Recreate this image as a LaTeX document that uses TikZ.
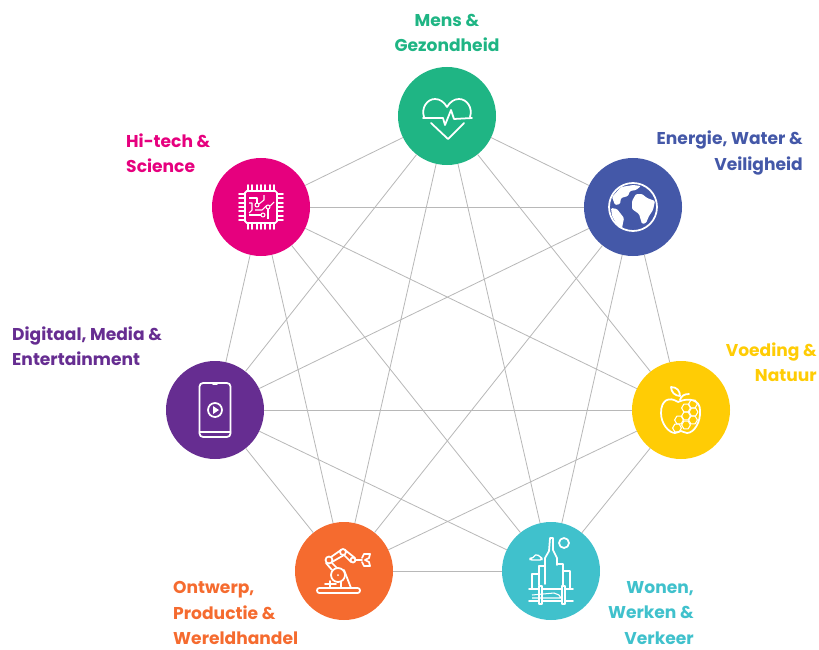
\documentclass[tikz,border=0pt]{standalone}
\usepackage{fontspec}
\setmainfont{Poppins}
\usetikzlibrary{calc}

\definecolor{mensgreen}{HTML}{1FB584}
\definecolor{hitechpink}{HTML}{E6007E}
\definecolor{energieblue}{HTML}{4458A8}
\definecolor{voedingyellow}{HTML}{FFCC05}
\definecolor{wonenteal}{HTML}{40C1CC}
\definecolor{ontwerporange}{HTML}{F56B2F}
\definecolor{digitaalpurple}{HTML}{662D91}
\definecolor{linegrey}{HTML}{B8B8B8}

\begin{document}
\begin{tikzpicture}[x=0.03cm, y=-0.03cm]
    % Styles
    \tikzset{
        theme/.style={circle, fill=#1, minimum size=2.94cm, inner sep=0pt, outer sep=0pt},
        link/.style={draw=linegrey, line width=0.7pt},
        caption/.style={font=\bfseries\fontsize{14.6}{21.4}\selectfont, text=#1, inner sep=0pt},
        icon/.style={draw=white, line width=1.5pt, line join=round, line cap=round},
        thinicon/.style={draw=white, line width=0.9pt, line join=round}
    }

    \useasboundingbox (0,0) rectangle (819,650);

    % Main circles
    \node[theme=mensgreen] (mens) at (447,116) {};
    \node[theme=hitechpink] (hitech) at (261,207) {};
    \node[theme=energieblue] (energie) at (633,207) {};
    \node[theme=voedingyellow] (voeding) at (681,410) {};
    \node[theme=wonenteal] (wonen) at (551,571) {};
    \node[theme=ontwerporange] (ontwerp) at (344,571) {};
    \node[theme=digitaalpurple] (digitaal) at (215,410) {};

    % Connections
    \foreach \a/\b in {mens/hitech, mens/energie, mens/voeding, mens/wonen, mens/ontwerp, mens/digitaal,
        hitech/energie, hitech/voeding, hitech/wonen, hitech/ontwerp, hitech/digitaal,
        energie/voeding, energie/wonen, energie/ontwerp, energie/digitaal,
        voeding/wonen, voeding/ontwerp, voeding/digitaal,
        wonen/ontwerp, wonen/digitaal,
        ontwerp/digitaal}
        \draw[link] (\a) -- (\b);

    % Labels
    \node[caption=mensgreen, align=center] (menslabel) at (447,33) {Mens \&\\Gezondheid};
    \node[caption=hitechpink, align=left, anchor=west] (hitechlabel) at (126,153) {Hi-tech \&\\Science};
    \node[caption=energieblue, align=right, anchor=east] (energielabel) at (803,153) {Energie, Water \&\\Veiligheid};
    \node[caption=voedingyellow, align=right, anchor=east] (voedinglabel) at (817,362) {Voeding \&\\Natuur};
    \node[caption=digitaalpurple, align=left, anchor=west] (digitaallabel) at (12,346) {Digitaal, Media \&\\Entertainment};
    \node[caption=ontwerporange, align=left, anchor=west] (ontwerplabel) at (173,613) {Ontwerp,\\Productie \&\\Wereldhandel};
    \node[caption=wonenteal, align=right, anchor=east] (wonenlabel) at (694,613) {Wonen,\\Werken \&\\Verkeer};

    % Heart icon
    \begin{scope}[shift={(mens.center)}]
        \draw[icon] (-23,1) .. controls (-26,-8) and (-20,-17) .. (-12,-17) .. controls (-7,-17) and (-3,-14) .. (0,-9)
            .. controls (3,-14) and (7,-17) .. (12,-17) .. controls (20,-17) and (26,-8) .. (23,1);
        \draw[icon] (-24,2) -- (-4,2) -- (-2,9) -- (4,-6) -- (7,3) -- (25,2);
        \draw[icon] (-16,7) -- (1,23) -- (17,7);
    \end{scope}

    % Chip icon
    \begin{scope}[shift={(hitech.center)}]
        \draw[icon, rounded corners=1.5pt] (-16,-16) rectangle (16,16);
        \foreach \p in {-13,-8.7,-4.3,0,4.3,8.7,13} {
            \draw[icon] (\p,-22) -- (\p,-16);
            \draw[icon] (\p,16) -- (\p,22);
            \draw[icon] (-22,\p) -- (-16,\p);
            \draw[icon] (16,\p) -- (22,\p);
        }
        \draw[thinicon] (-4,-2) circle (2);
        \draw[thinicon] (7,0) circle (2);
        \draw[thinicon] (2,8) circle (2);
        \draw[thinicon] (-12,-9) -- (-4,-9) -- (-4,-4);
        \draw[thinicon] (-12,-4) -- (-9,-4) -- (-9,3) -- (-12,6);
        \draw[thinicon] (-2,-3) -- (3,-7) -- (3,-12);
        \draw[thinicon] (5,-1) -- (1,3) -- (-6,3);
        \draw[thinicon] (7,2) -- (7,12);
        \draw[thinicon] (0,8) -- (-12,8);
        \draw[thinicon] (9,-1) -- (13,-5);
    \end{scope}

    % Globe icon
    \begin{scope}[shift={(energie.center)}]
        \draw[icon] (0,0) circle (24);
        \fill[white, rounded corners=1pt] (-21,-10) -- (-12,-20) -- (0,-22) -- (8,-21) -- (3,-17) -- (-3,-16) -- (-5,-11)
            -- (-12,-9) -- (-13,-3) -- (-18,-2) -- cycle;
        \fill[white, rounded corners=1pt] (-1,-6) -- (3,-13) -- (9,-13) -- (14,-9) -- (22,-6) -- (20,3) -- (16,9) -- (13,16)
            -- (9,17) -- (6,7) -- (-1,2) -- cycle;
        \fill[white, rounded corners=1pt] (-22,1) -- (-16,2) -- (-9,11) -- (-11,21) -- (-14,21) -- (-21,9) -- cycle;
    \end{scope}

    % Apple icon
    \begin{scope}[shift={(voeding.center)}]
        \draw[icon] (-3,-8) .. controls (-12,-14) and (-20,-10) .. (-20,3) .. controls (-20,14) and (-12,23) .. (-6,23)
            .. controls (-3,23) and (-2,21) .. (0,21) .. controls (2,21) and (3,23) .. (6,23)
            .. controls (13,23) and (20,12) .. (19,0) .. controls (19,-10) and (8,-13) .. (-3,-8);
        \draw[icon] (-10,-23) .. controls (-4,-23) and (-1,-19) .. (-1,-14) .. controls (-6,-14) and (-10,-18) .. (-10,-23) -- cycle;
        \draw[icon] (-1,-10) .. controls (0,-14) and (3,-16) .. (8,-16);
        \foreach \hx/\hy in {5/-2, 12/-6, 12.5/2, 5/6, 12/10, 5/15, -2/10, -4/18}
            \draw[thinicon, shift={(\hx,\hy)}] (0:4.4) -- (60:4.4) -- (120:4.4) -- (180:4.4) -- (240:4.4) -- (300:4.4) -- cycle;
    \end{scope}

    % City icon
    \begin{scope}[shift={(wonen.center)}]
        \draw[icon] (13,-28) circle (5);
        \draw[thinicon, line width=1.1pt, rounded corners=1.5pt] (-19,-12) -- (-17,-15) -- (-14,-17) -- (-11,-14) -- (-9,-13) -- (-9,-11) -- (-21,-11) -- (-21,-13) -- cycle;
        \draw[icon] (-6,13) -- (-6,-13) -- (-2,-20) -- (-1,-33) -- (2,-33) -- (2,-21) -- (6,-13) -- (6,-6);
        \draw[icon] (-12,14) -- (-12,-5) -- (-6,-5);
        \draw[icon] (6,-7) -- (12,-7) -- (12,14);
        \draw[icon] (-12,3) -- (-19,3) -- (-19,17);
        \draw[icon] (12,0) -- (19,0) -- (19,17);
        \draw[icon] (-22,18) -- (22,18);
        \draw[icon] (-22,30) -- (22,30);
        \draw[icon, fill=wonenteal] (-12,15) rectangle (-9,33);
        \draw[icon, fill=wonenteal] (11,15) rectangle (14,33);
        \draw[thinicon] (-19,24) -- (3,22) -- (8,24) -- (10,27) -- (-19,27);
    \end{scope}

    % Robot icon
    \begin{scope}[shift={(ontwerp.center)}]
        \draw[icon, rounded corners=2pt] (-27,17) rectangle (16,22);
        \draw[icon] (-6,4) circle (7);
        \fill[white] (-6,4) circle (1);
        \draw[icon] (-19,13) -- (-8,13);
        \draw[icon] (-14,10) -- (-14,17);
        \draw[icon] (0,-1) -- (7,17);
        \draw[icon] (-3,11) -- (-3,17);
        \draw[icon] (-15,-11) circle (3.5);
        \draw[icon] (-1,-19) circle (3);
        \draw[icon] (9,-11) circle (2.5);
        \draw[icon] (-18,-8) -- (-12,-1);
        \draw[icon] (-12,-8) -- (-7,-3);
        \draw[icon] (-13,-14) -- (-3,-21);
        \draw[icon] (-12,-9) -- (0,-16);
        \draw[icon] (1,-21) -- (11,-13);
        \draw[icon] (0,-16) -- (7,-9);
        \draw[icon] (11,-11) -- (18,-11);
        \draw[icon] (18,-13) -- (20,-17) -- (26,-17) -- (25,-13) -- (21,-11) -- (25,-9) -- (26,-5) -- (20,-5) -- (18,-9);
    \end{scope}

    % Phone icon
    \begin{scope}[shift={(digitaal.center)}]
        \draw[icon, rounded corners=3pt] (-15.5,-27) rectangle (15.5,27);
        \draw[icon] (-15.5,22) -- (15.5,22);
        \draw[icon] (-2,-26) -- (2,-26);
        \draw[icon] (0,0) circle (7);
        \fill[white] (-2,-4) -- (4,0) -- (-2,4) -- cycle;
    \end{scope}

\end{tikzpicture}
\end{document}
